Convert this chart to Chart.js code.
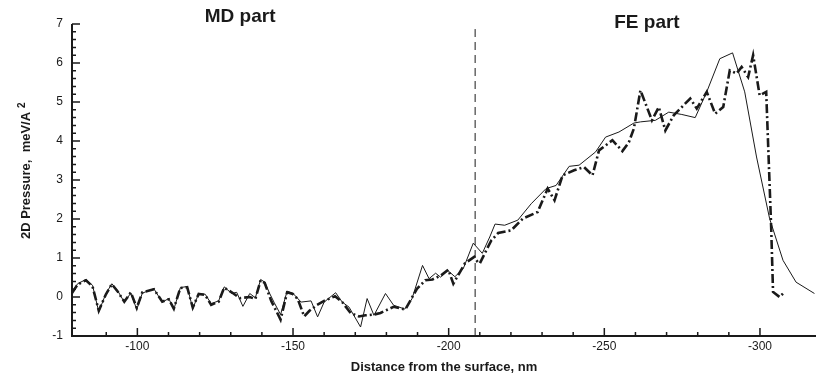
<!DOCTYPE html>
<html>
<head>
<meta charset="utf-8">
<script src="https://cdn.jsdelivr.net/npm/chart.js@4/dist/chart.umd.min.js"></script>
<style>
  html, body { margin: 0; padding: 0; background: #fff; }
  #wrap { width: 819px; height: 378px; }
</style>
</head>
<body>
<div id="wrap"><canvas id="pressureChart"></canvas></div>
<script>
// thin solid curve
const solidX = [-79, -80.8, -83.5, -85.6, -87.6, -89.9, -91.8, -93.6, -95.8, -97.9, -99.8, -101.6, -105.3, -108, -110.1, -111.7, -113.8, -116, -117.8, -119.7, -121.8, -123.7, -126.1, -127.9, -130.3, -131.9, -133.9, -136.1, -137.9, -139.6, -140.9, -142.5, -144, -146, -148.1, -149.9, -152.6, -155.8, -157.9, -160, -163.7, -165.8, -168, -171.7, -173.8, -176, -179.7, -182.3, -185.9, -188.2, -191.6, -193.7, -195.8, -197.4, -199.7, -202, -204.7, -207.9, -210.8, -213.2, -214.9, -218, -222.2, -226.5, -231.3, -234.5, -238.7, -241.9, -247.2, -250.4, -254.7, -259.5, -261.6, -266.4, -270.7, -274.9, -279.2, -282.9, -287.1, -291.2, -295.1, -298.9, -303.1, -307.4, -311.6, -317.5];
const solidP = [0.13, 0.34, 0.45, 0.30, -0.38, 0.09, 0.34, 0.17, -0.13, 0.10, -0.32, 0.10, 0.21, -0.13, -0.04, -0.32, 0.24, 0.27, -0.30, 0.09, 0.07, -0.17, -0.10, 0.26, 0.09, 0.12, -0.24, 0.09, -0.02, 0.45, 0.38, 0.09, -0.15, -0.45, 0.15, 0.10, -0.13, -0.10, -0.51, -0.13, 0.11, -0.13, -0.26, -0.77, -0.04, -0.47, 0.09, -0.21, -0.31, -0.05, 0.81, 0.47, 0.61, 0.51, 0.68, 0.52, 0.73, 1.38, 1.12, 1.54, 1.87, 1.84, 1.97, 2.39, 2.78, 2.86, 3.35, 3.38, 3.72, 4.10, 4.23, 4.46, 4.49, 4.53, 4.74, 4.68, 4.60, 5.26, 6.11, 6.26, 5.26, 3.59, 2.01, 0.94, 0.38, 0.09];

// thick dash-dot curve
const dashX = [-79, -80.8, -83.5, -85.6, -87.6, -89.9, -91.8, -93.6, -95.8, -97.9, -99.8, -101.6, -105.3, -108, -110.1, -111.7, -113.8, -116, -117.8, -119.7, -121.8, -123.7, -126.1, -127.9, -130.3, -132.9, -136.1, -137.9, -139.6, -140.9, -143, -146, -148.1, -149.9, -151.5, -153.6, -155.2, -157.4, -160, -163.5, -165.8, -168.5, -171.2, -173.3, -176, -178.1, -182.3, -186.1, -189.8, -192.5, -194.8, -197.5, -199.9, -201.5, -205.2, -208.2, -209.3, -210, -212.1, -213.7, -215.9, -220.1, -223.8, -228.6, -231.8, -234, -236.6, -240.3, -243.5, -246.2, -248.3, -252.6, -255.8, -257.9, -259.5, -261.6, -265.3, -267.5, -269.6, -272.3, -274.4, -277.6, -279.7, -282.9, -285.6, -288.2, -290.3, -292.5, -294.1, -296.2, -297.8, -299.9, -302, -303.6, -304.2, -306.3, -307.4];
const dashP = [0.10, 0.32, 0.43, 0.27, -0.35, 0.07, 0.33, 0.15, -0.12, 0.12, -0.28, 0.12, 0.20, -0.12, -0.06, -0.30, 0.23, 0.25, -0.27, 0.08, 0.05, -0.20, -0.12, 0.24, 0.12, -0.03, 0.00, -0.05, 0.43, 0.36, -0.10, -0.58, 0.12, 0.08, -0.05, -0.50, -0.36, -0.22, -0.10, 0.02, -0.13, -0.41, -0.50, -0.47, -0.45, -0.41, -0.25, -0.32, 0.21, 0.43, 0.45, 0.55, 0.70, 0.34, 0.86, 1.03, 0.90, 0.86, 1.20, 1.45, 1.64, 1.71, 2.01, 2.18, 2.78, 2.48, 3.12, 3.25, 3.33, 3.12, 3.76, 4.02, 3.74, 3.97, 4.32, 5.30, 4.53, 4.87, 4.27, 4.66, 4.83, 5.09, 4.83, 5.26, 4.70, 4.87, 5.81, 5.73, 5.90, 5.64, 6.20, 5.17, 5.26, 1.79, 0.13, 0.00, 0.09];

// MD / FE boundary
const boundaryX = [-208.5, -208.5];
const boundaryP = [-1, 6.87];

const xTickLabels = [-100, -150, -200, -250, -300];
const yTickLabels = [-1, 0, 1, 2, 3, 4, 5, 6, 7];

const toPoints = (xs, ys) => xs.map((x, i) => ({ x: x, y: ys[i] }));
const isTick = (v, list) => list.some((t) => Math.abs(t - v) < 1e-6);

const ink = "#1a1a1a";

const axesPlugin = {
  id: "axesPlugin",
  afterDatasetsDraw(chart) {
    const ctx = chart.ctx;
    const a = chart.chartArea;
    const sx = chart.scales.x;
    const sy = chart.scales.y;
    ctx.save();
    ctx.strokeStyle = ink;
    ctx.lineWidth = 2;
    ctx.beginPath();
    ctx.moveTo(a.left, a.top);
    ctx.lineTo(a.left, a.bottom);
    ctx.lineTo(a.right, a.bottom);
    ctx.stroke();

    ctx.lineWidth = 1.5;
    ctx.beginPath();
    sx.ticks.forEach((t) => {
      if (Math.abs(t.value - Math.round(t.value / 10) * 10) > 1e-6) return;
      const px = sx.getPixelForValue(t.value);
      const len = isTick(t.value, xTickLabels) ? 8 : 4;
      ctx.moveTo(px, a.bottom);
      ctx.lineTo(px, a.bottom - len);
    });
    sy.ticks.forEach((t) => {
      const py = sy.getPixelForValue(t.value);
      const len = isTick(t.value, yTickLabels) ? 8 : 4;
      ctx.moveTo(a.left, py);
      ctx.lineTo(a.left + len, py);
    });
    ctx.stroke();

    // part labels
    ctx.fillStyle = ink;
    ctx.font = "bold 19px 'Liberation Sans', Arial, sans-serif";
    ctx.textAlign = "center";
    ctx.textBaseline = "middle";
    ctx.fillText("MD part", sx.getPixelForValue(-133), 17);
    ctx.fillText("FE part", sx.getPixelForValue(-263.7), 23);

    // y title with superscript
    ctx.translate(26, 175.5);
    ctx.rotate(-Math.PI / 2);
    ctx.font = "bold 13px 'Liberation Sans', Arial, sans-serif";
    const main = "2D Pressure,  meV/A";
    const w = ctx.measureText(main).width;
    ctx.fillText(main, 0, 0);
    ctx.font = "bold 10px 'Liberation Sans', Arial, sans-serif";
    ctx.textAlign = "left";
    ctx.fillText("2", w / 2 + 4, -4);
    ctx.restore();
  },
};

new Chart(document.getElementById("pressureChart"), {
  type: "line",
  data: {
    datasets: [
      {
        data: toPoints(solidX, solidP),
        borderColor: ink,
        borderWidth: 1,
        pointRadius: 0,
        tension: 0,
      },
      {
        data: toPoints(dashX, dashP),
        borderColor: ink,
        borderWidth: 2.6,
        borderDash: [9, 3, 2, 3],
        pointRadius: 0,
        tension: 0,
      },
      {
        data: toPoints(boundaryX, boundaryP),
        borderColor: ink,
        borderWidth: 1,
        borderDash: [8, 5],
        pointRadius: 0,
      },
    ],
  },
  options: {
    responsive: true,
    maintainAspectRatio: false,
    animation: false,
    layout: { padding: { top: 24, right: 0, left: 0, bottom: 0 } },
    plugins: {
      legend: { display: false },
      tooltip: { enabled: false },
    },
    scales: {
      x: {
        type: "linear",
        reverse: true,
        min: -318,
        max: -79,
        border: { display: false },
        grid: { display: false, drawTicks: false },
        ticks: {
          stepSize: 10,
          autoSkip: false,
          maxRotation: 0,
          padding: 3,
          color: ink,
          font: { family: "'Liberation Sans', Arial, sans-serif", size: 12 },
          callback: (v) => (isTick(v, xTickLabels) ? String(v) : ""),
        },
        title: {
          display: true,
          text: "Distance from the surface, nm",
          color: ink,
          padding: { top: 0, bottom: 3 },
          font: { family: "'Liberation Sans', Arial, sans-serif", size: 13, weight: "bold" },
        },
        afterFit: (s) => {
          s.height = 42;
        },
      },
      y: {
        min: -1,
        max: 7,
        border: { display: false },
        grid: { display: false, drawTicks: false },
        ticks: {
          stepSize: 0.2,
          autoSkip: false,
          padding: 9,
          color: ink,
          font: { family: "'Liberation Sans', Arial, sans-serif", size: 12 },
          callback: (v) => (isTick(v, yTickLabels) ? String(Math.round(v)) : ""),
        },
        afterFit: (s) => {
          s.width = 72;
        },
      },
    },
  },
  plugins: [axesPlugin],
});
</script>
</body>
</html>
